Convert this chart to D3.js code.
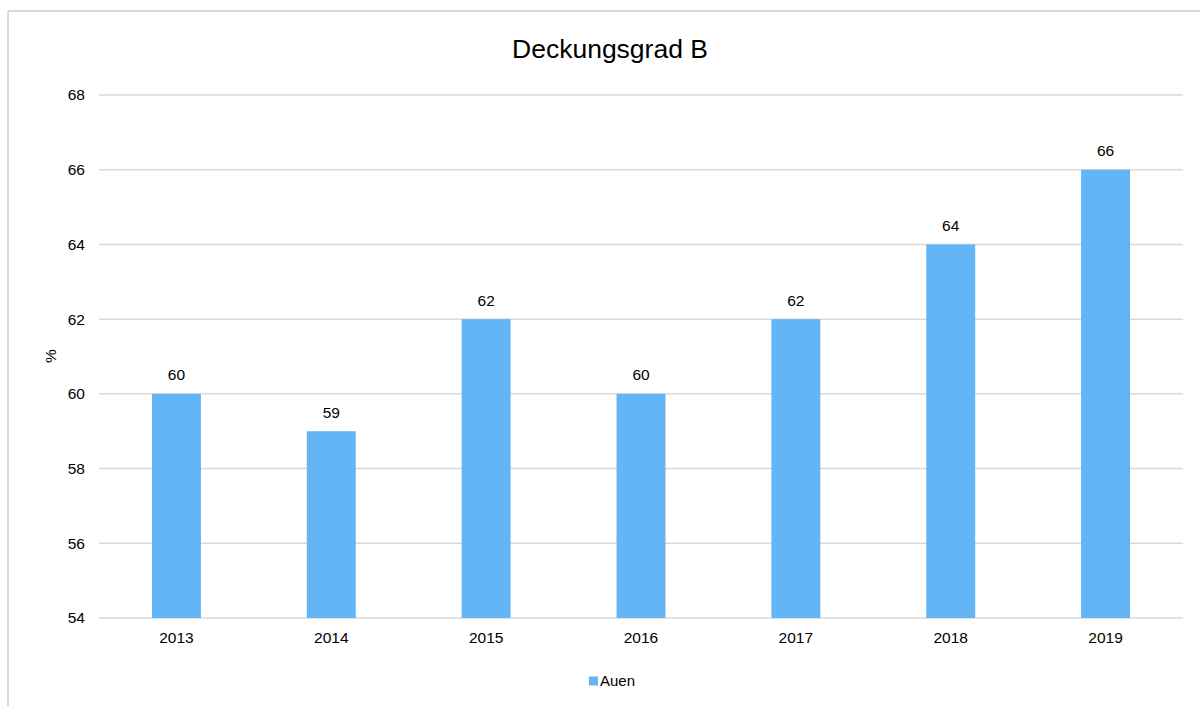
<!DOCTYPE html>
<html>
<head>
<meta charset="utf-8">
<script src="https://cdn.jsdelivr.net/npm/d3@7"></script>
<style>
  body { margin: 0; background: #fff; }
  svg { display: block; font-family: "Liberation Sans", Arial, sans-serif; }
</style>
</head>
<body>
<div id="chart"></div>
<script>
const years = ['2013', '2014', '2015', '2016', '2017', '2018', '2019'];
const auen = [60, 59, 62, 60, 62, 64, 66];
const yTicks = [54, 56, 58, 60, 62, 64, 66, 68];

const width = 1200;
const height = 706;
const margin = { top: 95, right: 17, bottom: 88, left: 99 };

const svg = d3.select('#chart')
  .append('svg')
  .attr('width', width)
  .attr('height', height);

// chart frame (only left and top edges visible)
svg.append('line')
  .attr('x1', 8).attr('y1', 11).attr('x2', 8).attr('y2', height)
  .attr('stroke', '#d9d9d9').attr('stroke-width', 2);
svg.append('line')
  .attr('x1', 8).attr('y1', 11).attr('x2', width).attr('y2', 11)
  .attr('stroke', '#d9d9d9').attr('stroke-width', 2);

const x = d3.scaleBand()
  .domain(years)
  .range([margin.left, width - margin.right])
  .paddingInner(0.684)
  .paddingOuter(0.342);

const y = d3.scaleLinear()
  .domain([54, 68])
  .range([height - margin.bottom, margin.top]);

// gridlines
svg.append('g')
  .selectAll('line')
  .data(yTicks)
  .join('line')
  .attr('x1', margin.left)
  .attr('x2', width - margin.right)
  .attr('y1', d => y(d))
  .attr('y2', d => y(d))
  .attr('stroke', '#d9d9d9')
  .attr('stroke-width', 1.5);

// y tick labels
svg.append('g')
  .selectAll('text')
  .data(yTicks)
  .join('text')
  .attr('x', 85)
  .attr('y', d => y(d))
  .attr('dy', '0.35em')
  .attr('text-anchor', 'end')
  .attr('font-size', 15.5)
  .attr('fill', '#000')
  .text(d => d);

// bars
svg.append('g')
  .selectAll('rect')
  .data(auen)
  .join('rect')
  .attr('x', (d, i) => x(years[i]))
  .attr('y', d => y(d))
  .attr('width', x.bandwidth())
  .attr('height', d => y(54) - y(d))
  .attr('fill', '#63b5f5');

// value labels
svg.append('g')
  .selectAll('text')
  .data(auen)
  .join('text')
  .attr('x', (d, i) => x(years[i]) + x.bandwidth() / 2)
  .attr('y', d => y(d) - 13.5)
  .attr('text-anchor', 'middle')
  .attr('font-size', 15.5)
  .attr('fill', '#000')
  .text(d => d);

// x labels
svg.append('g')
  .selectAll('text')
  .data(years)
  .join('text')
  .attr('x', d => x(d) + x.bandwidth() / 2)
  .attr('y', y(54) + 25)
  .attr('text-anchor', 'middle')
  .attr('font-size', 15.5)
  .attr('fill', '#000')
  .text(d => d);

// title
svg.append('text')
  .attr('x', 610)
  .attr('y', 57.5)
  .attr('text-anchor', 'middle')
  .attr('font-size', 26.5)
  .attr('fill', '#000')
  .text('Deckungsgrad B');

// y axis title
svg.append('text')
  .attr('transform', 'translate(51,356) rotate(-90)')
  .attr('dy', '0.35em')
  .attr('text-anchor', 'middle')
  .attr('font-size', 15.5)
  .attr('fill', '#000')
  .text('%');

// legend
const legend = svg.append('g').attr('transform', 'translate(589,681)');
legend.append('rect')
  .attr('x', 0).attr('y', -4.5)
  .attr('width', 9).attr('height', 9)
  .attr('fill', '#63b5f5');
legend.append('text')
  .attr('x', 11)
  .attr('dy', '0.35em')
  .attr('font-size', 15)
  .attr('fill', '#000')
  .text('Auen');
</script>
</body>
</html>
